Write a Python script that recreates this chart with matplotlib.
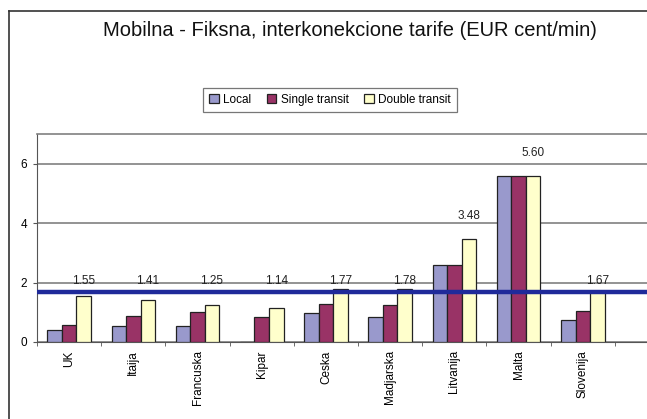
import numpy as np
import matplotlib
matplotlib.use('Agg')
from matplotlib import pyplot as plt
from matplotlib.lines import Line2D

plt.rcParams['font.family'] = ['Liberation Sans', 'DejaVu Sans']

#data
countries = ['UK', 'Itaija', 'Francuska', 'Kipar', 'Ceska', 'Madjarska', 'Litvanija', 'Malta', 'Slovenija']
local = [0.39, 0.53, 0.53, 0.0, 0.97, 0.84, 2.58, 5.60, 0.75]
single_transit = [0.57, 0.87, 1.01, 0.84, 1.28, 1.23, 2.58, 5.60, 1.06]
double_transit = [1.55, 1.41, 1.25, 1.14, 1.77, 1.78, 3.48, 5.60, 1.67]
average = 1.68

title = 'Mobilna - Fiksna, interkonekcione tarife (EUR cent/min)'

fig = plt.figure(figsize=(6.47, 4.19), dpi=100)
#outer chart frame (only left and top visible, rest is cropped)
fx = 8.5/647
fy = 1 - 11/419
fig.lines.append(Line2D([fx, fx], [0, fy], transform=fig.transFigure, color='#333333', linewidth=1.2))
fig.lines.append(Line2D([fx, 1], [fy, fy], transform=fig.transFigure, color='#333333', linewidth=1.2))
fig.text(350/647, 1 - 31/419, title, ha='center', va='center', fontsize=14.5, color='#111111')

ax = fig.add_axes([37/647, 1 - 342/419, 1 - 37/647, (342 - 134)/419])
x = np.arange(len(countries))
w = 0.226
ax.bar(x - w, local, w, color='#9999cc', edgecolor='#222222', linewidth=0.9, label='Local', zorder=3)
ax.bar(x, single_transit, w, color='#993366', edgecolor='#222222', linewidth=0.9, label='Single transit', zorder=3)
ax.bar(x + w, double_transit, w, color='#ffffcc', edgecolor='#222222', linewidth=0.9, label='Double transit', zorder=3)

ax.axhline(average, color='#1f2a9a', linewidth=3.2, zorder=4)

for i, v in enumerate(double_transit):
    ly = v + 0.75 if v > 2 else 2.05
    ax.text(x[i] + w, ly, '%.2f' % v, ha='center', va='center',
            fontsize=8.5, color='#222222', zorder=5)

ax.set_ylim(0, 7)
ax.set_xlim(-0.5, 9.0)
ax.set_yticks([0, 2, 4, 6])
ax.set_yticklabels(['0', '2', '4', '6'], fontsize=8.5)
ax.yaxis.grid(True, color='#808080', linewidth=1.2, zorder=0)
ax.set_axisbelow(True)
ax.set_xticks(x)
ax.set_xticklabels(countries, rotation=90, fontsize=8.5)
ax.tick_params(axis='x', length=0, pad=6)
ax.set_xticks(np.arange(-0.5, 9.0, 1.0), minor=True)
ax.tick_params(axis='x', which='minor', length=3, color='#555555')
ax.tick_params(axis='y', length=3, color='#555555', pad=4)
ax.spines['top'].set_color('#808080')
ax.spines['top'].set_linewidth(1.2)
ax.spines['right'].set_visible(False)
ax.spines['left'].set_color('#555555')
ax.spines['bottom'].set_color('#555555')

leg = fig.legend(loc='center', bbox_to_anchor=(330/647, 1 - 100/419), ncol=3, fontsize=8.5,
                 frameon=True, fancybox=False, edgecolor='#555555', handlelength=0.8,
                 handleheight=0.8, handletextpad=0.4, columnspacing=1.3, borderpad=0.5)
leg.get_frame().set_linewidth(0.9)

fig.savefig('out.png', dpi=100)
